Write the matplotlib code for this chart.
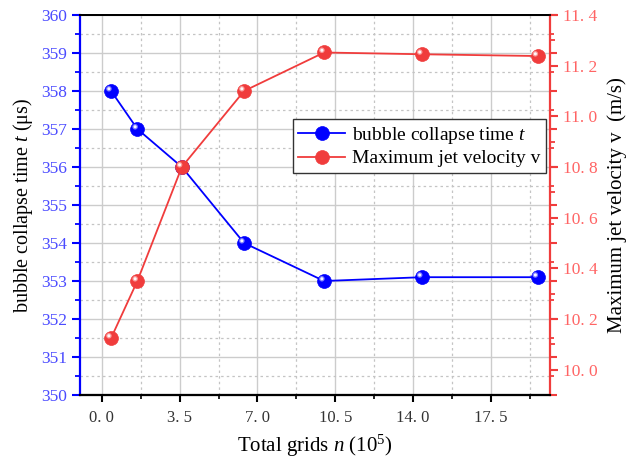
import matplotlib
matplotlib.use("Agg")
import matplotlib.pyplot as plt
from matplotlib.ticker import MultipleLocator, FuncFormatter, NullFormatter
from matplotlib.transforms import offset_copy

# Grid-independence study data
grids = [0.42, 1.6, 3.6, 6.4, 10.0, 14.4, 19.6]          # total grids (10^5)
collapse_time = [358.0, 357.0, 356.0, 354.0, 353.0, 353.1, 353.1]   # μs
jet_velocity = [10.125, 10.35, 10.80, 11.10, 11.252, 11.245, 11.238]  # m/s

x_ticks = [0.0, 3.5, 7.0, 10.5, 14.0, 17.5]

plt.rcParams['font.family'] = ['Liberation Serif', 'DejaVu Serif']
plt.rcParams['mathtext.fontset'] = 'custom'
plt.rcParams['mathtext.it'] = 'Liberation Serif:italic'
plt.rcParams['mathtext.rm'] = 'Liberation Serif'

BLUE = '#0000ff'
RED = '#f03c3c'
BLUE_TXT = '#4b4bff'
RED_TXT = '#ff6464'

fig = plt.figure(figsize=(6.3, 4.59), dpi=100)
ax = fig.add_axes([80 / 630, 64 / 459, 470 / 630, 380 / 459])
ax3 = ax.twinx()   # carries the left scale's ticks on the right spine
ax2 = ax.twinx()   # velocity scale

ax.set_xlim(-0.98, 20.16)
ax.set_ylim(350, 360)
ax3.set_ylim(350, 360)
ax2.set_ylim(9.9, 11.4)

# grid
ax.set_axisbelow(True)
ax.xaxis.set_major_locator(MultipleLocator(3.5))
ax.xaxis.set_minor_locator(MultipleLocator(1.75))
for a in (ax, ax3):
    a.yaxis.set_major_locator(MultipleLocator(1))
    a.yaxis.set_minor_locator(MultipleLocator(0.5))
ax3.yaxis.set_major_formatter(NullFormatter())
ax.grid(which='major', color='#cccccc', lw=1.0, ls='-')
ax.grid(which='minor', color='#c4c4c4', lw=0.9, ls=(0, (2, 2.5)))

ax2.yaxis.set_major_locator(MultipleLocator(0.2))
ax2.yaxis.set_minor_locator(MultipleLocator(0.1))


def dotted(v, pos):
    return f"{v:.1f}".replace('.', '. ')


ax.xaxis.set_major_formatter(FuncFormatter(dotted))
ax.set_xticks(x_ticks)
ax2.yaxis.set_major_formatter(FuncFormatter(dotted))
ax2.set_yticks([10.0, 10.2, 10.4, 10.6, 10.8, 11.0, 11.2, 11.4])

# spines
for a in (ax, ax2, ax3):
    a.spines['top'].set_color('black')
    a.spines['bottom'].set_color('black')
    a.spines['top'].set_linewidth(1.3)
    a.spines['bottom'].set_linewidth(1.5)
    a.spines['right'].set_visible(False)
    a.spines['left'].set_visible(False)
ax.spines['left'].set_visible(True)
ax.spines['left'].set_color(BLUE)
ax.spines['left'].set_linewidth(1.6)
ax2.spines['right'].set_visible(True)
ax2.spines['right'].set_color(RED)
ax2.spines['right'].set_linewidth(1.6)

ax.tick_params(axis='x', which='major', direction='out', length=5, width=1.5,
               color='black', labelsize=12, pad=6, labelcolor='#333333')
ax.tick_params(axis='x', which='minor', direction='out', length=3, width=1.2,
               color='black')
ax.tick_params(axis='y', which='major', direction='out', length=6, width=1.5,
               color=BLUE, labelcolor=BLUE_TXT, labelsize=12.5)
ax.tick_params(axis='y', which='minor', direction='out', length=3.5, width=1.3,
               color=BLUE)
ax3.tick_params(axis='y', which='major', direction='out', length=5, width=1.5, color=RED)
ax3.tick_params(axis='y', which='minor', direction='out', length=3, width=1.3, color=RED)
ax2.tick_params(axis='y', which='major', direction='out', length=6, width=1.5,
                color=RED, labelcolor=RED_TXT, labelsize=12.5)
ax2.tick_params(axis='y', which='minor', direction='out', length=3.5, width=1.3,
                color=RED)


def glossy(a, x, y, color, hl, label):
    line, = a.plot(x, y, '-', color=color, lw=1.3, marker='o', markersize=10,
                   markerfacecolor=color, markeredgecolor=color, markeredgewidth=0.5,
                   label=label, zorder=3)
    tr = offset_copy(a.transData, fig=fig, x=-1.6, y=1.6, units='points')
    a.scatter(x, y, s=16, color=hl, alpha=0.75, edgecolors='none', transform=tr, zorder=4)
    a.scatter(x, y, s=5, color='white', alpha=0.95, edgecolors='none', transform=tr, zorder=5)
    return line


l1 = glossy(ax, grids, collapse_time, BLUE, '#a0a0ff', 'bubble collapse time $t$')
l2 = glossy(ax2, grids, jet_velocity, RED, '#ffb4b4', 'Maximum jet velocity v')

ax.set_xlabel('Total grids $n$ (10$^5$)', fontsize=15, labelpad=5)
ax.set_ylabel('bubble collapse time $t$ (μs)', fontsize=14.5, labelpad=4)
ax2.set_ylabel('Maximum jet velocity v  (m/s)', fontsize=15, labelpad=7)

leg = ax2.legend([l1, l2], [l1.get_label(), l2.get_label()], loc='upper left',
                 bbox_to_anchor=(0.453, 0.726), borderaxespad=0, fontsize=14,
                 fancybox=False, framealpha=1, edgecolor='#333333',
                 handlelength=2.4, handletextpad=0.35, borderpad=0.28, labelspacing=0.22)
leg.get_frame().set_linewidth(1.0)

fig.savefig('out.png', dpi=100)
